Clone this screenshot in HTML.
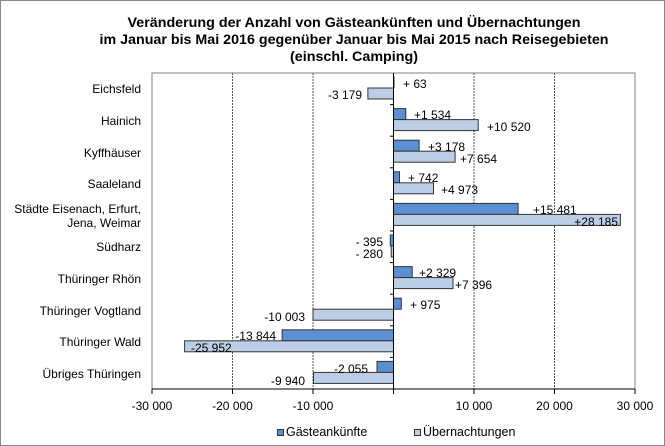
<!DOCTYPE html>
<html><head><meta charset="utf-8"><style>
html,body{margin:0;padding:0;background:#fff;}
svg{display:block;font-family:"Liberation Sans",Arial,sans-serif;}
</style></head><body>
<svg width="665" height="446" viewBox="0 0 665 446" xmlns="http://www.w3.org/2000/svg">
<rect x="0.5" y="0.5" width="664" height="445" fill="#fff" stroke="#888"/>
<g font-weight="bold" font-size="14" text-anchor="middle" fill="#000">
<text x="354" y="27" textLength="453" lengthAdjust="spacingAndGlyphs">Veränderung der Anzahl von Gästeankünften und Übernachtungen</text>
<text x="354" y="44" textLength="509" lengthAdjust="spacingAndGlyphs">im Januar bis Mai 2016 gegenüber Januar bis Mai 2015 nach Reisegebieten</text>
<text x="354" y="61" textLength="128" lengthAdjust="spacingAndGlyphs">(einschl. Camping)</text>
</g>
<rect x="152" y="73" width="483" height="316" fill="#fff" stroke="#808080"/>
<g stroke="#555" stroke-dasharray="2,1">
<line x1="232.5" y1="73" x2="232.5" y2="389"/>
<line x1="313" y1="73" x2="313" y2="389"/>
<line x1="474" y1="73" x2="474" y2="389"/>
<line x1="554.5" y1="73" x2="554.5" y2="389"/>
</g>
<g stroke="#333" stroke-width="1">
<rect x="393.5" y="77" width="0.5" height="11" fill="#5b8fd4"/>
<rect x="367.9" y="88" width="25.6" height="11" fill="#bccde6"/>
<rect x="393.5" y="108.6" width="12.3" height="11" fill="#5b8fd4"/>
<rect x="393.5" y="119.6" width="84.7" height="11" fill="#bccde6"/>
<rect x="393.5" y="140.2" width="25.6" height="11" fill="#5b8fd4"/>
<rect x="393.5" y="151.2" width="61.6" height="11" fill="#bccde6"/>
<rect x="393.5" y="171.8" width="6" height="11" fill="#5b8fd4"/>
<rect x="393.5" y="182.8" width="40" height="11" fill="#bccde6"/>
<rect x="393.5" y="203.4" width="124.6" height="11" fill="#5b8fd4"/>
<rect x="393.5" y="214.4" width="226.9" height="11" fill="#bccde6"/>
<rect x="390.3" y="235" width="3.2" height="11" fill="#5b8fd4"/>
<rect x="391.2" y="246" width="2.3" height="11" fill="#bccde6"/>
<rect x="393.5" y="266.6" width="18.7" height="11" fill="#5b8fd4"/>
<rect x="393.5" y="277.6" width="59.5" height="11" fill="#bccde6"/>
<rect x="393.5" y="298.2" width="7.8" height="11" fill="#5b8fd4"/>
<rect x="313" y="309.2" width="80.5" height="11" fill="#bccde6"/>
<rect x="282.1" y="329.8" width="111.4" height="11" fill="#5b8fd4"/>
<rect x="184.6" y="340.8" width="208.9" height="11" fill="#bccde6"/>
<rect x="377" y="361.4" width="16.5" height="11" fill="#5b8fd4"/>
<rect x="313.5" y="372.4" width="80" height="11" fill="#bccde6"/>
</g>
<line x1="393.5" y1="73" x2="393.5" y2="389" stroke="#000"/>
<g stroke="#000">
<line x1="390" y1="104.6" x2="393.5" y2="104.6"/><line x1="390" y1="136.2" x2="393.5" y2="136.2"/>
<line x1="390" y1="167.8" x2="393.5" y2="167.8"/><line x1="390" y1="199.4" x2="393.5" y2="199.4"/>
<line x1="390" y1="231" x2="393.5" y2="231"/><line x1="390" y1="262.6" x2="393.5" y2="262.6"/>
<line x1="390" y1="294.2" x2="393.5" y2="294.2"/><line x1="390" y1="325.8" x2="393.5" y2="325.8"/>
<line x1="390" y1="357.4" x2="393.5" y2="357.4"/>
<line x1="152" y1="389" x2="635" y2="389"/>
<line x1="152" y1="389" x2="152" y2="394"/><line x1="232.5" y1="389" x2="232.5" y2="394"/>
<line x1="313" y1="389" x2="313" y2="394"/><line x1="393.5" y1="389" x2="393.5" y2="394"/>
<line x1="474" y1="389" x2="474" y2="394"/><line x1="554.5" y1="389" x2="554.5" y2="394"/>
<line x1="635" y1="389" x2="635" y2="394"/>
</g>
<g font-size="12" text-anchor="end" fill="#000">
<text x="141" y="93">Eichsfeld</text>
<text x="141" y="125">Hainich</text>
<text x="141" y="157">Kyffhäuser</text>
<text x="141" y="188">Saaleland</text>
<text x="141" y="213">Städte Eisenach, Erfurt,</text>
<text x="141" y="227">Jena, Weimar</text>
<text x="141" y="251">Südharz</text>
<text x="141" y="283">Thüringer Rhön</text>
<text x="141" y="315">Thüringer Vogtland</text>
<text x="141" y="346">Thüringer Wald</text>
<text x="141" y="378">Übriges Thüringen</text>
</g>
<g font-size="12" fill="#000">
<text x="403" y="88">+ 63</text>
<text x="362" y="99" text-anchor="end">-3 179</text>
<text x="414" y="119">+1 534</text>
<text x="487" y="131">+10 520</text>
<text x="428" y="151">+3 178</text>
<text x="460" y="163">+7 654</text>
<text x="408" y="182">+ 742</text>
<text x="441" y="194">+4 973</text>
<text x="533" y="214">+15 481</text>
<text x="618" y="226" text-anchor="end">+28 185</text>
<text x="383" y="246" text-anchor="end">- 395</text>
<text x="383" y="258" text-anchor="end">- 280</text>
<text x="419" y="277">+2 329</text>
<text x="455" y="289">+7 396</text>
<text x="410" y="309">+ 975</text>
<text x="305" y="321" text-anchor="end">-10 003</text>
<text x="276" y="340" text-anchor="end">-13 844</text>
<text x="191" y="352">-25 952</text>
<text x="368" y="373" text-anchor="end">-2 055</text>
<text x="305" y="385" text-anchor="end">-9 940</text>
</g>
<g font-size="12" text-anchor="middle" fill="#000">
<text x="152" y="410">-30 000</text>
<text x="232.5" y="410">-20 000</text>
<text x="313" y="410">-10 000</text>
<text x="474" y="410">10 000</text>
<text x="554.5" y="410">20 000</text>
<text x="635" y="410">30 000</text>
</g>
<rect x="277.5" y="429.5" width="6" height="6" fill="#5b8fd4" stroke="#333"/>
<text x="286" y="436" font-size="12.5">Gästeankünfte</text>
<rect x="414.5" y="429.5" width="6" height="6" fill="#bccde6" stroke="#333"/>
<text x="423" y="436" font-size="12.5">Übernachtungen</text>
</svg>
</body></html>
